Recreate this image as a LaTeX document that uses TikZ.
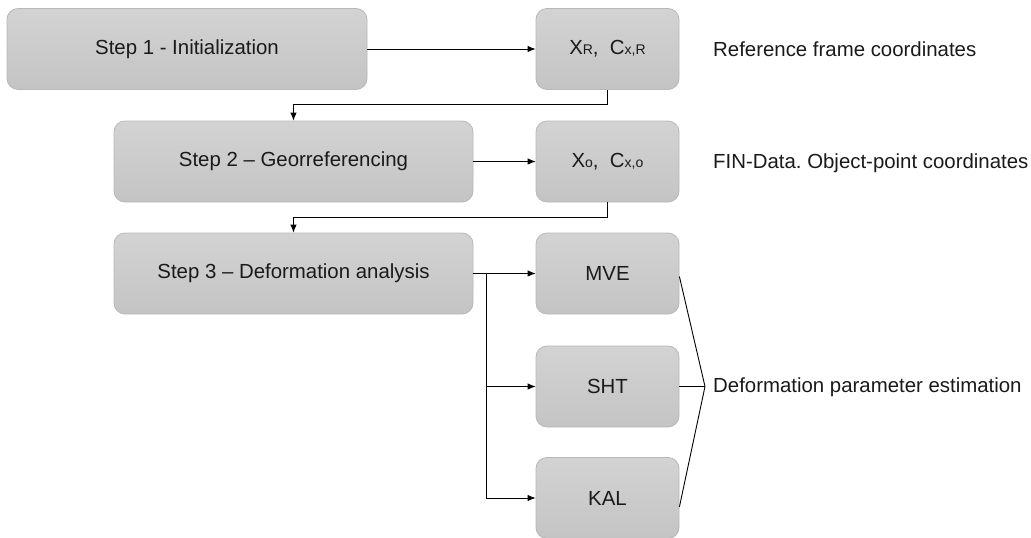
\documentclass[tikz,border=0pt]{standalone}
\usepackage{fontspec}
\setmainfont{Liberation Sans}
\usetikzlibrary{arrows.meta}
\definecolor{boxtop}{HTML}{D3D3D3}
\definecolor{boxbot}{HTML}{C4C4C4}
\definecolor{boxline}{HTML}{B8B8B8}
\definecolor{txt}{HTML}{1A1A1A}
\newcommand{\sm}[1]{{\fontsize{14}{14}\selectfont #1}}
\frenchspacing
\begin{document}
\begin{tikzpicture}[x=1pt,y=-1pt,
  box/.style={draw=boxline, line width=0.8pt, rounded corners=11pt, top color=boxtop, bottom color=boxbot,
    minimum height=81pt, inner sep=0pt, font=\fontsize{20.4}{24}\selectfont, text=txt},
  lbl/.style={anchor=west, inner sep=0pt, font=\fontsize{20.4}{24}\selectfont, text=txt},
  arr/.style={draw=black, line width=0.9pt, -{Latex[length=8pt,width=6.5pt]}},
  ln/.style={draw=black, line width=0.9pt}]
\useasboundingbox (0,0) rectangle (1031,538);
\node[box, minimum width=360pt] (b1) at (187,49) {Step 1 - Initialization};
\node[box, minimum width=143pt] (r1) at (607.5,49) {X\sm{R},\ \ C\sm{x,R}};
\node[box, minimum width=359pt] (b2) at (293.5,161.5) {Step 2 -- Georreferencing};
\node[box, minimum width=143pt] (r2) at (607.5,161.5) {X\sm{o},\ \ C\sm{x,o}};
\node[box, minimum width=359pt] (b3) at (293.5,273.5) {Step 3 -- Deformation analysis};
\node[box, minimum width=143pt] (mve) at (607.5,273.5) {MVE};
\node[box, minimum width=143pt] (sht) at (607.5,386.5) {SHT};
\node[box, minimum width=143pt] (kal) at (607.5,498) {KAL};

\node[lbl] (t1) at (713,49) {Reference frame coordinates};
\node[lbl] (t2) at (713,163) {FIN-Data. Object-point coordinates};
\node[lbl] (t3) at (713,387.5) {Deformation parameter estimation};

\draw[arr] (b1.east) -- (r1.west);
\draw[arr] (r1.south) -- ++(0,15) -| (b2.north);
\draw[arr] (b2.east) -- (r2.west);
\draw[arr] (r2.south) -- ++(0,15) -| (b3.north);
\draw[arr] (b3.east) -- (mve.west);
\coordinate (br) at (486,273.5);
\draw[arr] (br) |- (sht.west);
\draw[arr] (br) |- (kal.west);
\coordinate (cv) at (705,386.5);
\draw[ln] ([yshift=-3pt]mve.east) -- (cv);
\draw[ln] (sht.east) -- (cv);
\draw[ln] ([yshift=-9pt]kal.east) -- (cv);
\end{tikzpicture}
\end{document}
